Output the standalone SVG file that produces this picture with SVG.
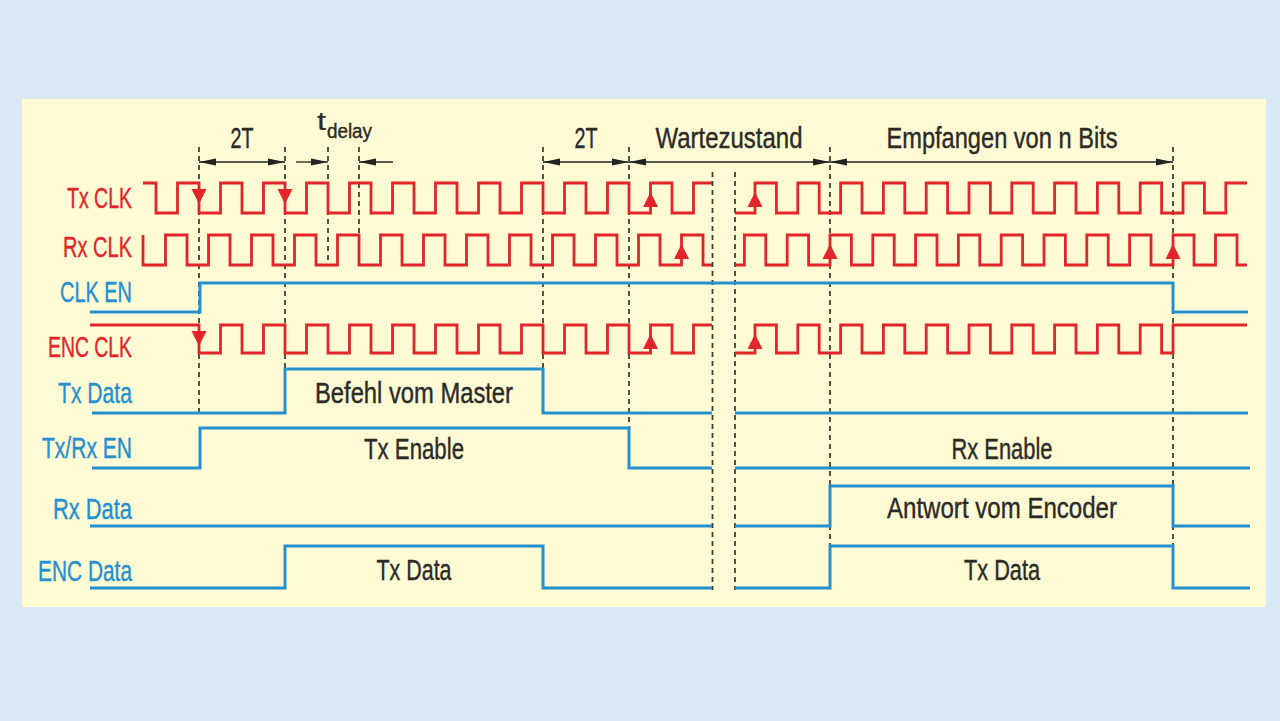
<svg xmlns="http://www.w3.org/2000/svg" width="1280" height="721" viewBox="0 0 1280 721">
<style>
.bg{fill:#d9e9f3}
.panel{fill:#fefad3}
.red{fill:none;stroke:#e2252b;stroke-width:2.8;stroke-linejoin:miter}
.blue{fill:none;stroke:#2590cf;stroke-width:3;stroke-linejoin:miter}
.tri{fill:#e2252b}
.dash{fill:none;stroke:#3e3e38;stroke-width:1.8;stroke-dasharray:5 4}
.dim{fill:none;stroke:#222;stroke-width:1.3;marker-end:url(#ah)}
.dim2{fill:none;stroke:#222;stroke-width:1.3;marker-start:url(#ah);marker-end:url(#ah)}
text{font-family:"Liberation Sans",Arial,sans-serif;font-size:29px;stroke-width:0.4}
.lr{fill:#e2252b;stroke:#e2252b;text-anchor:end}
.lb{fill:#2590cf;stroke:#2590cf;text-anchor:end}
.lt{fill:#2b2b28;stroke:#2b2b28;text-anchor:middle}
.td{fill:#2b2b28;stroke:#2b2b28}
</style>
<defs>
<marker id="ah" viewBox="0 0 17 9" refX="17" refY="4.5" markerWidth="17" markerHeight="9" orient="auto-start-reverse" markerUnits="userSpaceOnUse">
<path d="M0,1 L17,4.5 L0,8 Z" fill="#222"/>
</marker>
</defs>
<rect class="bg" x="0" y="0" width="1280" height="721"/>
<rect class="panel" x="22" y="99" width="1244" height="508"/>

<g id="dashes">
<line class="dash" x1="199" y1="147" x2="199" y2="413"/>
<line class="dash" x1="285" y1="147" x2="285" y2="369"/>
<line class="dash" x1="328" y1="147" x2="328" y2="265"/>
<line class="dash" x1="359" y1="147" x2="359" y2="265"/>
<line class="dash" x1="543" y1="147" x2="543" y2="369"/>
<line class="dash" x1="629" y1="147" x2="629" y2="428"/>
<line class="dash" x1="712.5" y1="172" x2="712.5" y2="590"/>
<line class="dash" x1="735" y1="172" x2="735" y2="590"/>
<line class="dash" x1="830" y1="147" x2="830" y2="546"/>
<line class="dash" x1="1173" y1="147" x2="1173" y2="546"/>
</g>

<g id="dimensions">
<line class="dim2" x1="199" y1="162" x2="285" y2="162"/>
<line class="dim" x1="296" y1="162" x2="328" y2="162"/>
<line class="dim" x1="393" y1="162" x2="359" y2="162"/>
<line class="dim2" x1="543" y1="162" x2="629" y2="162"/>
<line class="dim2" x1="629" y1="162" x2="830" y2="162"/>
<line class="dim2" x1="830" y1="162" x2="1173" y2="162"/>
<text class="lt" x="242" y="148" textLength="23" lengthAdjust="spacingAndGlyphs">2T</text>
<text class="td" x="317" y="130" style="font-size:25px;stroke-width:0.2" textLength="9" lengthAdjust="spacingAndGlyphs">t</text>
<text class="td" x="327" y="138" style="font-size:20px" textLength="45" lengthAdjust="spacingAndGlyphs">delay</text>
<text class="lt" x="586" y="148" textLength="23" lengthAdjust="spacingAndGlyphs">2T</text>
<text class="lt" x="729" y="148" textLength="147" lengthAdjust="spacingAndGlyphs">Wartezustand</text>
<text class="lt" x="1002" y="148" textLength="231" lengthAdjust="spacingAndGlyphs">Empfangen von n Bits</text>
</g>

<g id="tx-clk">
<text class="lr" x="132" y="208" textLength="65" lengthAdjust="spacingAndGlyphs">Tx CLK</text>
<path class="red" d="M143,183 H156 V213 H177.5 V183 H199 V213 H220.5 V183 H242 V213 H263.5 V183 H285 V213 H306.5 V183 H328 V213 H349.5 V183 H371 V213 H392.5 V183 H414 V213 H435.5 V183 H457 V213 H478.5 V183 H500 V213 H521.5 V183 H543 V213 H564.5 V183 H586 V213 H607.5 V183 H629 V213 H650.5 V183 H672 V213 H693.5 V183 H712"/>
<path class="red" d="M735,213 H755 V183 H776.4 V213 H797.8 V183 H819.2 V213 H840.6 V183 H862 V213 H883.4 V183 H904.8 V213 H926.2 V183 H947.6 V213 H969 V183 H990.4 V213 H1011.8 V183 H1033.2 V213 H1054.6 V183 H1076 V213 H1097.4 V183 H1118.8 V213 H1140.2 V183 H1161.6 V213 H1183 V183 H1204.4 V213 H1225.8 V183 H1247"/>
<path class="tri" d="M191.5,189 H206.5 L199,204 Z"/>
<path class="tri" d="M277.5,189 H292.5 L285,204 Z"/>
<path class="tri" d="M643,207 H658 L650.5,192 Z"/>
<path class="tri" d="M747.5,207 H762.5 L755,192 Z"/>
</g>

<g id="rx-clk">
<text class="lr" x="132" y="257" textLength="69" lengthAdjust="spacingAndGlyphs">Rx CLK</text>
<path class="red" d="M143,235 V265 H165.5 V235 H187 V265 H208.5 V235 H230 V265 H251.5 V235 H273 V265 H294.5 V235 H316 V265 H337.5 V235 H359 V265 H380.5 V235 H402 V265 H423.5 V235 H445 V265 H466.5 V235 H488 V265 H509.5 V235 H531 V265 H552.5 V235 H574 V265 H595.5 V235 H617 V265 H638.5 V235 H660 V265 H681.5 V235 H703 V265 H712"/>
<path class="red" d="M735,265 H744.4 V235 H765.8 V265 H787.2 V235 H808.6 V265 H830 V235 H851.4 V265 H872.8 V235 H894.2 V265 H915.6 V235 H937 V265 H958.4 V235 H979.8 V265 H1001.2 V235 H1022.6 V265 H1044 V235 H1065.4 V265 H1086.8 V235 H1108.2 V265 H1129.6 V235 H1151 V265 H1173 V235 H1194 V265 H1215.5 V235 H1237 V265 H1247"/>
<path class="tri" d="M674,259 H689 L681.5,244 Z"/>
<path class="tri" d="M822.5,259 H837.5 L830,244 Z"/>
<path class="tri" d="M1165.5,259 H1180.5 L1173,244 Z"/>
</g>

<g id="clk-en">
<text class="lb" x="132" y="302" textLength="72" lengthAdjust="spacingAndGlyphs">CLK EN</text>
<path class="blue" d="M90,312 H200 V283 H1173 V312 H1248"/>
</g>

<g id="enc-clk">
<text class="lr" x="132" y="357" textLength="84" lengthAdjust="spacingAndGlyphs">ENC CLK</text>
<path class="red" d="M90,325 H199 V353 H220.5 V325 H242 V353 H263.5 V325 H285 V353 H306.5 V325 H328 V353 H349.5 V325 H371 V353 H392.5 V325 H414 V353 H435.5 V325 H457 V353 H478.5 V325 H500 V353 H521.5 V325 H543 V353 H564.5 V325 H586 V353 H607.5 V325 H629 V353 H650.5 V325 H672 V353 H693.5 V325 H712"/>
<path class="red" d="M735,353 H755 V325 H776.4 V353 H797.8 V325 H819.2 V353 H840.6 V325 H862 V353 H883.4 V325 H904.8 V353 H926.2 V325 H947.6 V353 H969 V325 H990.4 V353 H1011.8 V325 H1033.2 V353 H1054.6 V325 H1076 V353 H1097.4 V325 H1118.8 V353 H1140.2 V325 H1161.6 V353 H1173 V325 H1247"/>
<path class="tri" d="M191.5,331 H206.5 L199,346 Z"/>
<path class="tri" d="M643,349 H658 L650.5,334 Z"/>
<path class="tri" d="M747.5,349 H762.5 L755,334 Z"/>
</g>

<g id="tx-data">
<text class="lb" x="132" y="403" textLength="74" lengthAdjust="spacingAndGlyphs">Tx Data</text>
<path class="blue" d="M92,413 H285 V369 H543 V413 H712"/>
<path class="blue" d="M735,413 H1248"/>
<text class="lt" x="414" y="403" textLength="198" lengthAdjust="spacingAndGlyphs">Befehl vom Master</text>
</g>

<g id="txrx-en">
<text class="lb" x="132" y="458" textLength="90" lengthAdjust="spacingAndGlyphs">Tx/Rx EN</text>
<path class="blue" d="M92,468 H200 V428 H629 V468 H712"/>
<path class="blue" d="M735,468 H1250"/>
<text class="lt" x="414" y="459" textLength="100" lengthAdjust="spacingAndGlyphs">Tx Enable</text>
<text class="lt" x="1002" y="459" textLength="101" lengthAdjust="spacingAndGlyphs">Rx Enable</text>
</g>

<g id="rx-data">
<text class="lb" x="132" y="519" textLength="79" lengthAdjust="spacingAndGlyphs">Rx Data</text>
<path class="blue" d="M90,526 H712"/>
<path class="blue" d="M735,526 H830 V486 H1173 V526 H1250"/>
<text class="lt" x="1002" y="518" textLength="230" lengthAdjust="spacingAndGlyphs">Antwort vom Encoder</text>
</g>

<g id="enc-data">
<text class="lb" x="132" y="581" textLength="94" lengthAdjust="spacingAndGlyphs">ENC Data</text>
<path class="blue" d="M90,588 H285 V546 H543 V588 H712"/>
<path class="blue" d="M735,588 H830 V546 H1173 V588 H1250"/>
<text class="lt" x="414" y="580" textLength="75" lengthAdjust="spacingAndGlyphs">Tx Data</text>
<text class="lt" x="1002" y="580" textLength="76" lengthAdjust="spacingAndGlyphs">Tx Data</text>
</g>
</svg>
